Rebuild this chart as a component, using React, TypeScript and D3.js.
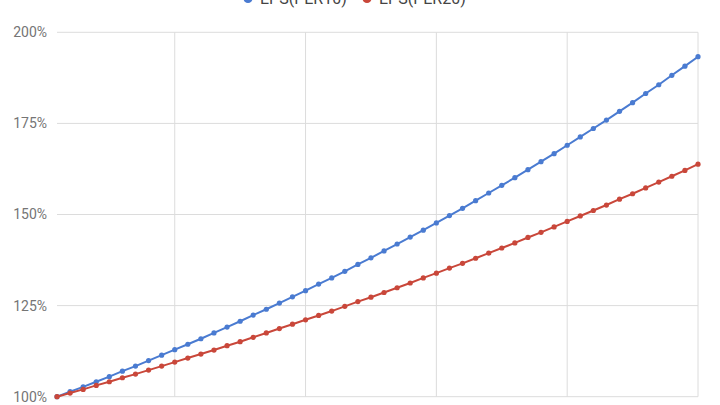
import { useEffect, useRef } from "react"
import * as d3 from "d3"

// periods 1..50
const periods = d3.range(1, 51)

// EPS growth (percent of the start value)
const epsPer10 = [
  100.0, 101.4, 102.7, 104.1, 105.5, 107.0, 108.4, 109.9, 111.4, 112.9,
  114.4, 115.9, 117.5, 119.1, 120.7, 122.4, 124.0, 125.7, 127.4, 129.1,
  130.9, 132.6, 134.4, 136.3, 138.1, 140.0, 141.9, 143.8, 145.7, 147.7,
  149.7, 151.7, 153.8, 155.9, 158.0, 160.1, 162.3, 164.5, 166.7, 169.0,
  171.3, 173.6, 175.9, 178.3, 180.7, 183.2, 185.6, 188.2, 190.7, 193.3,
]

const epsPer20 = [
  100.0, 101.0, 102.0, 103.1, 104.1, 105.2, 106.2, 107.3, 108.4, 109.5,
  110.6, 111.7, 112.8, 114.0, 115.1, 116.3, 117.5, 118.7, 119.9, 121.1,
  122.3, 123.5, 124.8, 126.1, 127.3, 128.6, 129.9, 131.2, 132.6, 133.9,
  135.3, 136.6, 138.0, 139.4, 140.8, 142.2, 143.7, 145.1, 146.6, 148.1,
  149.6, 151.1, 152.6, 154.2, 155.7, 157.3, 158.9, 160.5, 162.1, 163.8,
]

const seriesNames = ["EPS(PER10)", "EPS(PER20)"]
const seriesColors = ["#4a7bd1", "#c9473a"]

const yTicks = [100, 125, 150, 175, 200]
const xTicks = [10, 20, 30, 40, 50]

export default function App() {
  const svgRef = useRef<SVGSVGElement>(null)

  useEffect(() => {
    if (!svgRef.current) return

    const svg = d3.select(svgRef.current)
    svg.selectAll("*").remove()

    const width = 720
    const height = 405
    const margin = { top: 32.3, right: 22, bottom: 8.3, left: 57 }

    svg.attr("width", width).attr("height", height)

    const x = d3
      .scaleLinear()
      .domain([1, 50])
      .range([margin.left, width - margin.right])

    const y = d3
      .scaleLinear()
      .domain([100, 200])
      .range([height - margin.bottom, margin.top])

    // horizontal gridlines
    svg
      .append("g")
      .selectAll("line")
      .data(yTicks)
      .enter()
      .append("line")
      .attr("x1", margin.left)
      .attr("x2", width - margin.right)
      .attr("y1", (d) => y(d))
      .attr("y2", (d) => y(d))
      .attr("stroke", "#dcdcdc")
      .attr("stroke-width", 1)

    // vertical gridlines
    svg
      .append("g")
      .selectAll("line")
      .data(xTicks)
      .enter()
      .append("line")
      .attr("x1", (d) => x(d))
      .attr("x2", (d) => x(d))
      .attr("y1", margin.top)
      .attr("y2", height - margin.bottom)
      .attr("stroke", "#dcdcdc")
      .attr("stroke-width", 1)

    // y labels
    svg
      .append("g")
      .selectAll("text")
      .data(yTicks)
      .enter()
      .append("text")
      .attr("x", 47)
      .attr("y", (d) => y(d))
      .attr("dy", "0.35em")
      .attr("text-anchor", "end")
      .style("font-family", "Roboto, sans-serif")
      .style("font-size", "14px")
      .style("fill", "#757575")
      .text((d) => `${d}%`)

    const line = d3
      .line<number>()
      .x((_, i) => x(periods[i]))
      .y((d) => y(d))

    const allSeries = [epsPer10, epsPer20]

    allSeries.forEach((values, si) => {
      svg
        .append("path")
        .datum(values)
        .attr("fill", "none")
        .attr("stroke", seriesColors[si])
        .attr("stroke-width", 2)
        .attr("d", line)

      svg
        .append("g")
        .selectAll("circle")
        .data(values)
        .enter()
        .append("circle")
        .attr("cx", (_, i) => x(periods[i]))
        .attr("cy", (d) => y(d))
        .attr("r", 2.6)
        .attr("fill", seriesColors[si])
    })

    // legend (cut off at the top edge)
    const legendX = [248, 367]
    const legend = svg.append("g")
    seriesNames.forEach((name, i) => {
      legend
        .append("circle")
        .attr("cx", legendX[i])
        .attr("cy", -1.5)
        .attr("r", 4.5)
        .attr("fill", seriesColors[i])
      legend
        .append("text")
        .attr("x", legendX[i] + 12)
        .attr("y", 4)
        .style("font-family", "Roboto, sans-serif")
        .style("font-size", "16px")
        .style("fill", "#444")
        .text(name)
    })
  }, [])

  return (
    <div style={{ position: "fixed", top: 0, left: 0, width: 720, height: 405, background: "#fff" }}>
      <svg ref={svgRef} style={{ display: "block" }}></svg>
    </div>
  )
}
